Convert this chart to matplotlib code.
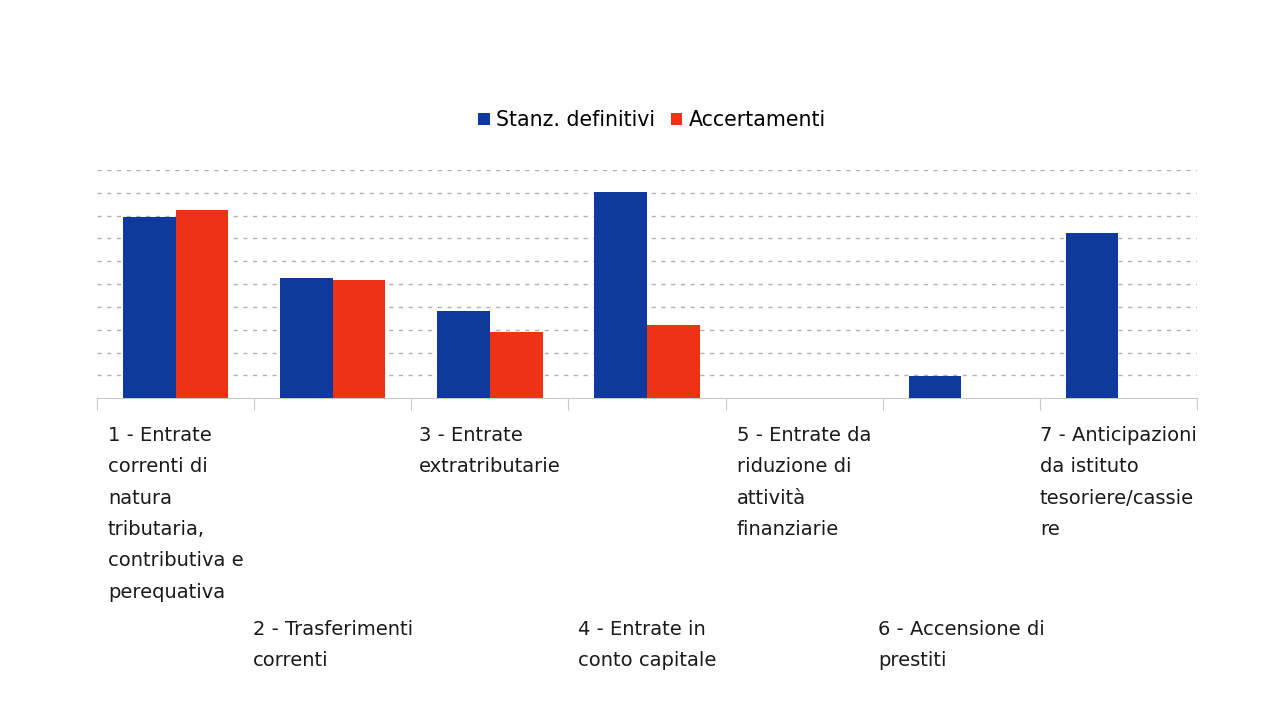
import matplotlib
matplotlib.use("Agg")
import matplotlib.pyplot as plt
import numpy as np
from matplotlib.patches import Patch
from matplotlib.transforms import blended_transform_factory

categories = [
    "1 - Entrate\ncorrenti di\nnatura\ntributaria,\ncontributiva e\nperequativa",
    "2 - Trasferimenti\ncorrenti",
    "3 - Entrate\nextratributarie",
    "4 - Entrate in\nconto capitale",
    "5 - Entrate da\nriduzione di\nattività\nfinanziarie",
    "6 - Accensione di\nprestiti",
    "7 - Anticipazioni\nda istituto\ntesoriere/cassie\nre",
]
series_names = ["Stanz. definitivi", "Accertamenti"]
stanz = [7.96, 5.26, 3.84, 9.03, 0.0, 0.98, 7.24]
accert = [8.26, 5.19, 2.91, 3.20, 0.0, 0.0, 0.0]

blue = "#0d3a9c"
red = "#ee3216"

fig = plt.figure(figsize=(12.78, 7.18), dpi=100)
W, H = 1278, 718
x0, x1, ytop, ybot = 97, 1197, 170, 398.3
ax = fig.add_axes([x0 / W, 1 - ybot / H, (x1 - x0) / W, (ybot - ytop) / H])

n = len(categories)
x = np.arange(n)
bw = 0.335
ax.bar(x - bw / 2, stanz, bw, color=blue, zorder=3)
ax.bar(x + bw / 2, accert, bw, color=red, zorder=3)

ax.set_xlim(-0.5, n - 0.5)
ax.set_ylim(0, 10)
ax.set_yticks(np.arange(1, 11))
ax.yaxis.grid(True, linestyle=(0, (3, 4)), color="#b0b0b0", linewidth=1.0, zorder=0)
ax.tick_params(axis="y", left=False, labelleft=False)
for s in ["left", "right", "top"]:
    ax.spines[s].set_visible(False)
ax.spines["bottom"].set_color("#c8c8c8")
ax.set_xticks(np.arange(-0.5, n, 1.0))
ax.tick_params(axis="x", direction="out", length=8.5, color="#c8c8c8", labelbottom=False)

trans = blended_transform_factory(ax.transData, fig.transFigure)
for i, lab in enumerate(categories):
    ypix = 426 if i % 2 == 0 else 620
    ax.text(i, 1 - ypix / H, lab, transform=trans, ha="center", va="top",
            multialignment="left", fontsize=14, linespacing=1.82, color="#1a1a1a")

handles = [Patch(facecolor=blue, label=series_names[0]), Patch(facecolor=red, label=series_names[1])]
fig.legend(handles=handles, loc="center", bbox_to_anchor=(652 / W, 1 - 120 / H), ncol=2,
           frameon=False, fontsize=14.8, handlelength=0.55, handleheight=0.55,
           handletextpad=0.3, columnspacing=0.8)

fig.savefig("out.png", dpi=100, facecolor="white")
